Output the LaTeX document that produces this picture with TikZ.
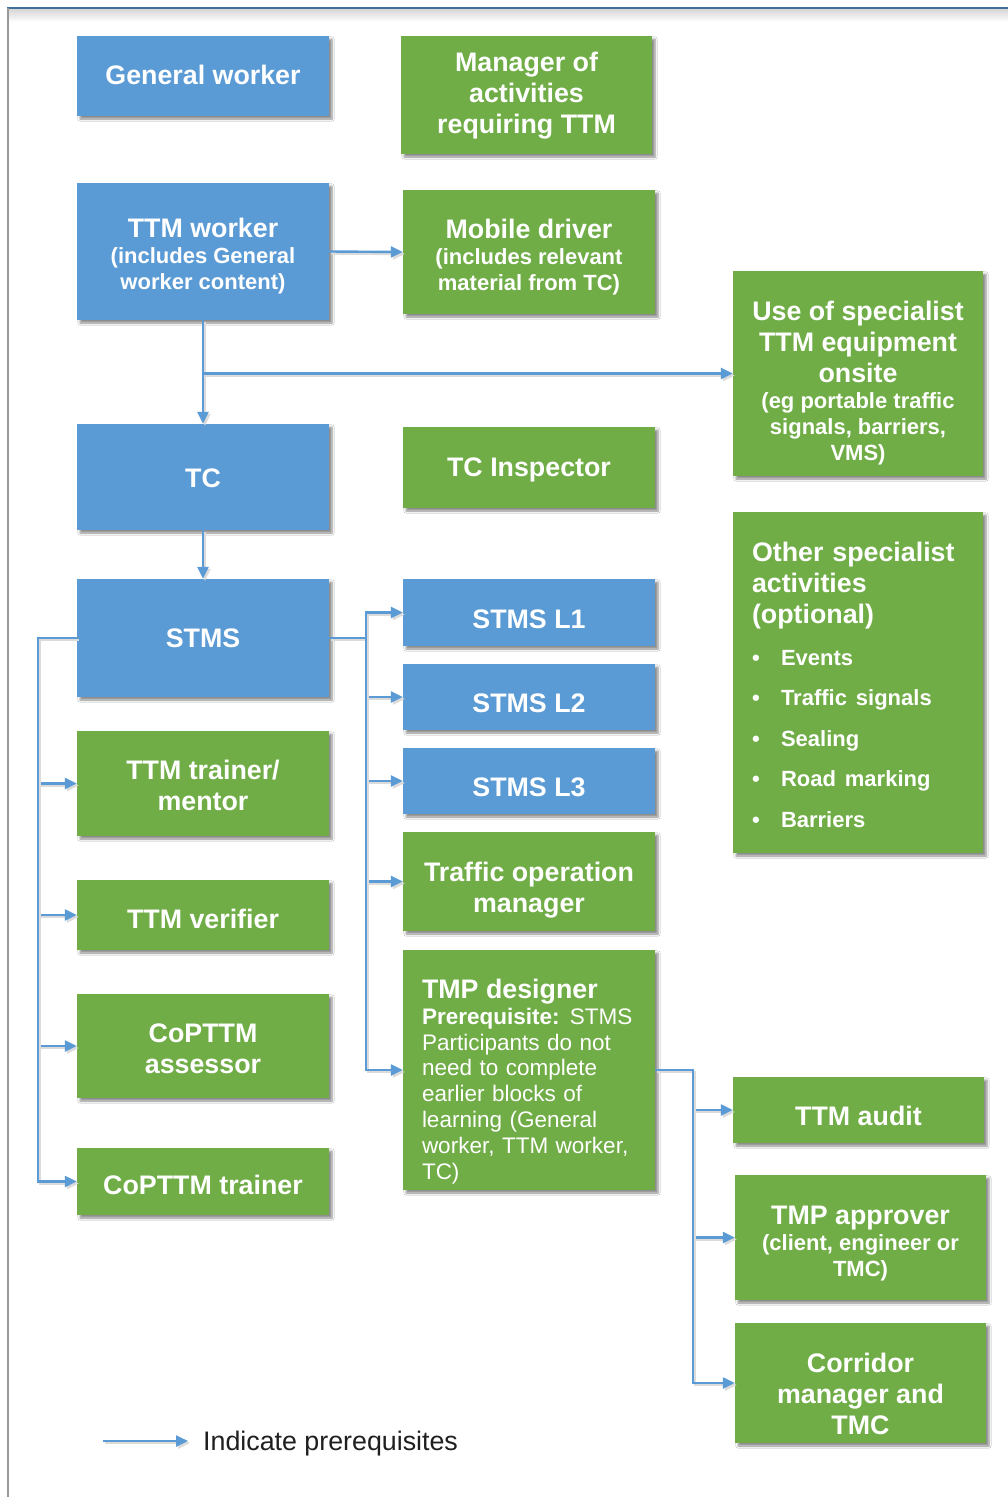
\documentclass[tikz,border=0pt]{standalone}
\usepackage{fontspec}
\setmainfont{Liberation Sans}
\usetikzlibrary{arrows.meta,shadows,shadows.blur,calc}
\definecolor{cblue}{HTML}{5B9BD5}
\definecolor{cgreen}{HTML}{70AD47}
\definecolor{cline}{HTML}{5B9BD5}
\definecolor{cframe}{HTML}{41709A}
\newcommand{\ttl}[1]{{\fontsize{26.8}{31}\selectfont #1}}
\newcommand{\subf}{\fontsize{22}{26}\selectfont}
\newcommand{\bul}{\makebox[29pt][l]{\textbullet}}
% box node + its text, text shifted down by #8
\newcommand{\bx}[9]{%
  \node[#2, minimum width={#5pt-#3pt}, minimum height={#6pt-#4pt}] (#1) at ({(#3+#5)/2},{(#4+#6)/2}) {};
  \node[txt,#7] (#1-t) at ({(#3+#5)/2},{(#4+#6)/2+#8}) {#9};}
\begin{document}
\begin{tikzpicture}[x=1pt,y=-1pt,
  box/.style={rectangle, inner sep=0pt,
    blur shadow={shadow xshift=3pt, shadow yshift=-3pt, shadow blur steps=6, shadow opacity=45}},
  bb/.style={box, fill=cblue},
  gb/.style={box, fill=cgreen},
  txt/.style={inner sep=0pt, text=white, align=center, font=\bfseries\fontsize{26.8}{31}\selectfont},
  sub/.style={font=\bfseries\fontsize{22}{26}\selectfont},
  arr/.style={draw=cline, line width=2.4pt, -{Triangle[length=12pt,width=11pt]},
    preaction={draw=black!14, line width=2.4pt, transform canvas={shift={(2pt,-2pt)}}}},
]
\useasboundingbox (0,0) rectangle (1008,1497);
\fill[white] (0,0) rectangle (1008,1497);
% frame
\shade[top color=black!16, bottom color=white] (8,9) rectangle (1008,22);
\draw[cframe, line width=2pt] (7,8) -- (1008,8);
\draw[black!40, line width=1.2pt] (8,8) -- (8,1497);

% boxes
\bx{gw}{bb}{77}{36}{329}{116}{}{-1}{General worker}
\bx{mgr}{gb}{401}{36}{652}{154}{}{1}{Manager of\\activities\\requiring TTM}
\bx{ttmw}{bb}{77}{183}{329}{320}{sub}{5}{\ttl{TTM worker}\\(includes General\\worker content)}
\bx{md}{gb}{403}{190}{655}{314}{sub}{5.5}{\ttl{Mobile driver}\\(includes relevant\\material from TC)}
\bx{spec}{gb}{733}{271}{983}{476}{sub}{10}{\ttl{Use of specialist}\\[5pt]\ttl{TTM equipment}\\[5pt]\ttl{onsite}\\(eg portable traffic\\signals, barriers,\\VMS)}
\bx{tc}{bb}{77}{424}{329}{530}{}{1}{TC}
\bx{tci}{gb}{403}{427}{655}{508}{}{2}{TC Inspector}
\bx{other}{gb}{733}{512}{983}{853}{text width=212pt,align=left}{2.5}{Other specialist\\activities\\(optional)\\[10.5pt]{\subf\bul Events}\\[9.5pt]{\subf\bul Traffic signals}\\[9.5pt]{\subf\bul Sealing}\\[9.5pt]{\subf\bul Road marking}\\[9.5pt]{\subf\bul Barriers}}
\bx{stms}{bb}{77}{579}{329}{697}{}{0}{STMS}
\bx{l1}{bb}{403}{579}{655}{646}{}{7}{STMS L1}
\bx{l2}{bb}{403}{664}{655}{730}{}{6}{STMS L2}
\bx{l3}{bb}{403}{748}{655}{814}{}{6}{STMS L3}
\bx{tom}{gb}{403}{832}{655}{931}{}{9}{Traffic operation\\manager}
\bx{tmp}{gb}{403}{950}{655}{1190}{text width=214pt,align=left,font=\mdseries\fontsize{22.5}{25.8}\selectfont}{11.5}{\ttl{\bfseries TMP designer}\\{\bfseries Prerequisite:}\hspace{-1pt} STMS\\Participants do not\\need to complete\\earlier blocks of\\learning (General\\worker, TTM worker,\\TC)}
\bx{trn}{gb}{77}{731}{329}{836}{}{2}{TTM trainer/\\mentor}
\bx{ver}{gb}{77}{880}{329}{950}{}{4}{TTM verifier}
\bx{ass}{gb}{77}{994}{329}{1098}{}{2.5}{CoPTTM\\assessor}
\bx{ctr}{gb}{77}{1148}{329}{1215}{}{3}{CoPTTM trainer}
\bx{aud}{gb}{733}{1077}{984}{1143}{}{6}{TTM audit}
\bx{app}{gb}{735}{1175}{986}{1300}{sub}{6}{\ttl{TMP approver}\\(client, engineer or\\TMC)}
\bx{cor}{gb}{735}{1323}{986}{1443}{}{11}{Corridor\\manager and\\TMC}

% connectors
\draw[arr] (ttmw.east) -- (md.west);
\draw[arr] (ttmw.south) -- (tc.north);
\draw[arr] (ttmw.south |- spec.west) -- (spec.west);
\draw[arr] (tc.south) -- (stms.north);
\foreach \t in {l1,l2,l3,tom,tmp}{\draw[arr] (stms.east) -- ++(37,0) |- (\t.west);}
\foreach \t in {trn,ver,ass,ctr}{\draw[arr] (stms.west) -- ++(-39,0) |- (\t.west);}
\foreach \t in {aud,app,cor}{\draw[arr] (tmp.east) -- ++(38,0) |- (\t.west);}

% legend
\coordinate (la) at (103,1441);
\node[anchor=west, inner sep=0pt, inner xsep=15pt, text=black!88, font=\fontsize{26.8}{31}\selectfont] (leg) at (188,1444) {Indicate prerequisites};
\draw[arr] (la) -- (la -| leg.west);
\end{tikzpicture}
\end{document}
